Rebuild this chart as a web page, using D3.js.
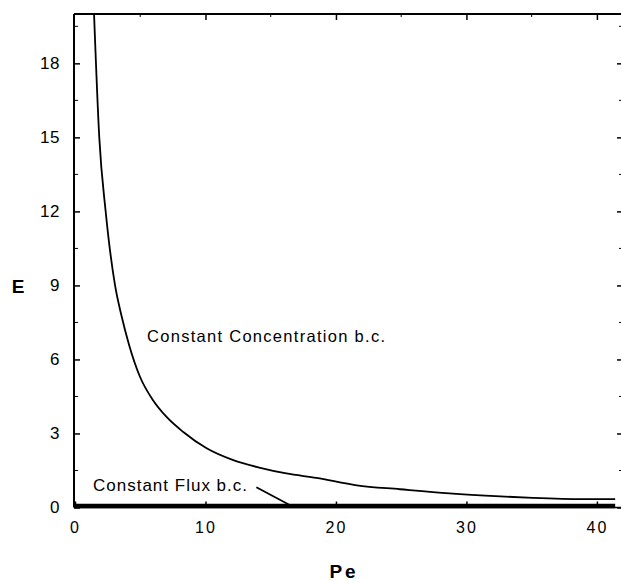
<!DOCTYPE html>
<html>
<head>
<meta charset="utf-8">
<script src="https://cdn.jsdelivr.net/npm/d3@7"></script>
<style>
  body { margin: 0; background: #fff; }
  text { font-family: "Liberation Sans", Arial, sans-serif; fill: #000; }
</style>
</head>
<body>
<div id="chart"></div>
<script>
// Constant Concentration b.c. curve
var pe = [1.46, 1.86, 2.35, 3.07, 3.55, 4.14, 4.98, 5.98, 7.02, 8.30, 10.09, 12.13, 14.2, 16.2, 18.5, 21.6, 24.9, 28.7, 32.6, 35.1, 38.95, 41.4];
var ePe = [20, 15, 12, 9, 7.8, 6.6, 5.3, 4.35, 3.67, 3.06, 2.4, 1.92, 1.61, 1.38, 1.2, 0.9, 0.74, 0.57, 0.45, 0.39, 0.34, 0.34];

// Constant Flux b.c. curve lies on the axis
var peFlux = [0, 41.4];
var eFlux = [0.06, 0.06];

var xTicks = [0, 10, 20, 30, 40];
var xMinor = [5, 15, 25, 35];
var yTicks = [0, 3, 6, 9, 12, 15, 18];
var yMinor = [1.5, 4.5, 7.5, 10.5, 13.5, 16.5, 19.5];

var W = 621, H = 581;
var svg = d3.select("#chart").append("svg")
    .attr("width", W)
    .attr("height", H);

var x = d3.scaleLinear().domain([0, 42]).range([75, 623]);
var y = d3.scaleLinear().domain([0, 20]).range([507.5, 14]);

// frame lines
svg.append("line")
    .attr("x1", 74).attr("x2", 74)
    .attr("y1", y(20)).attr("y2", y(0))
    .attr("stroke", "#000").attr("stroke-width", 2);
svg.append("line")
    .attr("x1", 74).attr("x2", W)
    .attr("y1", y(20)).attr("y2", y(20))
    .attr("stroke", "#000").attr("stroke-width", 2);

// bottom axis, ticks pointing inward
var xAxis = d3.axisBottom(x).tickValues(xTicks).tickSize(-6).tickPadding(14)
    .tickFormat(d3.format("d"));
var gx = svg.append("g")
    .attr("transform", "translate(0," + y(0) + ")")
    .call(xAxis);
gx.select(".domain").attr("d", "M74,0H" + W).attr("stroke-width", 1.5);
gx.selectAll(".tick line").attr("stroke-width", 1.5);
gx.selectAll("text")
    .attr("font-size", 16)
    .attr("letter-spacing", 2)
    .attr("font-family", "Liberation Sans, Arial, sans-serif");
gx.selectAll(".minor").data(xMinor).enter().append("line")
    .attr("x1", function(d) { return x(d); })
    .attr("x2", function(d) { return x(d); })
    .attr("y1", 0).attr("y2", -3)
    .attr("stroke", "#000");

// top ticks
var gt = svg.append("g")
    .attr("transform", "translate(0," + y(20) + ")")
    .call(d3.axisTop(x).tickValues(xTicks.slice(1)).tickSize(-6).tickFormat(""));
gt.select(".domain").remove();
gt.selectAll(".tick line").attr("stroke-width", 1.5);
gt.selectAll(".minor").data(xMinor).enter().append("line")
    .attr("x1", function(d) { return x(d); })
    .attr("x2", function(d) { return x(d); })
    .attr("y1", 0).attr("y2", 3)
    .attr("stroke", "#000");

// left axis
var gy = svg.append("g")
    .attr("transform", "translate(74,0)")
    .call(d3.axisLeft(y).tickValues(yTicks).tickSize(-6).tickPadding(14));
gy.select(".domain").remove();
gy.selectAll(".tick line").attr("stroke-width", 1.5);
gy.selectAll("text")
    .attr("font-size", 17)
    .attr("letter-spacing", 0.5)
    .attr("font-family", "Liberation Sans, Arial, sans-serif");
gy.selectAll(".minor").data(yMinor).enter().append("line")
    .attr("x1", 0).attr("x2", 4)
    .attr("y1", function(d) { return y(d); })
    .attr("y2", function(d) { return y(d); })
    .attr("stroke", "#000");

// right ticks (axis line sits just past the edge)
var gr = svg.append("g")
    .attr("transform", "translate(623,0)")
    .call(d3.axisRight(y).tickValues(yTicks).tickSize(-6).tickFormat(""));
gr.select(".domain").remove();
gr.selectAll(".tick line").attr("stroke-width", 1.5);
gr.selectAll(".minor").data(yMinor).enter().append("line")
    .attr("x1", 0).attr("x2", -4)
    .attr("y1", function(d) { return y(d); })
    .attr("y2", function(d) { return y(d); })
    .attr("stroke", "#000");

// curves
var line = d3.line()
    .x(function(d) { return x(d[0]); })
    .y(function(d) { return y(d[1]); })
    .curve(d3.curveMonotoneX);

svg.append("path")
    .datum(d3.zip(peFlux, eFlux))
    .attr("d", line)
    .attr("fill", "none")
    .attr("stroke", "#000")
    .attr("stroke-width", 4.5);

svg.append("path")
    .datum(d3.zip(pe, ePe))
    .attr("d", line)
    .attr("fill", "none")
    .attr("stroke", "#000")
    .attr("stroke-width", 1.8);

// labels
svg.append("text")
    .attr("x", 147).attr("y", 342)
    .attr("font-size", 16.5)
    .attr("textLength", 238)
    .text("Constant  Concentration  b.c.");

svg.append("text")
    .attr("x", 93).attr("y", 491)
    .attr("font-size", 17)
    .attr("textLength", 154)
    .text("Constant  Flux  b.c.");

// pointer from flux label to its curve
svg.append("line")
    .attr("x1", x(13.9)).attr("y1", y(0.82))
    .attr("x2", x(16.6)).attr("y2", y(0.06))
    .attr("stroke", "#000").attr("stroke-width", 1.8);

// axis titles
svg.append("text")
    .attr("x", 18).attr("y", 293)
    .attr("text-anchor", "middle")
    .attr("font-size", 19)
    .attr("font-weight", "bold")
    .text("E");

svg.append("text")
    .attr("x", 344).attr("y", 578)
    .attr("text-anchor", "middle")
    .attr("font-size", 19)
    .attr("font-weight", "bold")
    .attr("letter-spacing", 3)
    .text("Pe");
</script>
</body>
</html>
